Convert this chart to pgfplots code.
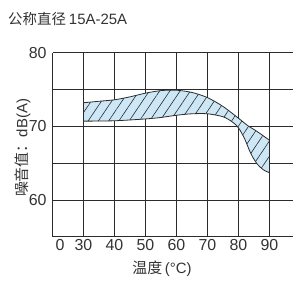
\documentclass[border=0pt]{standalone}
\usepackage{fontspec}
\setmainfont{Liberation Sans}
\newfontfamily\cjk{Noto Sans CJK SC}
\usepackage{pgfplots}
\usepackage{pgfplotstable}
\pgfplotsset{compat=1.18}
\usepgfplotslibrary{fillbetween}
\usetikzlibrary{patterns.meta}
\definecolor{bandfill}{HTML}{CDE7F6}
\definecolor{gridc}{HTML}{2B2B2B}
\definecolor{txt}{HTML}{333333}
\pgfplotstableread{
x y
30 73.2
35 73.4
40 73.6
45 74.0
50 74.5
55 74.85
60 74.9
65 74.6
70 73.9
75 72.7
80 71.1
83 70.1
86 69.3
90 68.1
}\upperband
\pgfplotstableread{
x y
30 70.7
40 70.75
50 71.0
55 71.2
60 71.5
65 71.7
70 71.7
75 71.3
78 70.6
80 69.8
82 68.3
84 66.3
86 64.9
88 64.1
90 63.7
}\lowerband
\begin{document}
\begin{tikzpicture}
\begin{axis}[at={(0,0)},anchor=south west,scale only axis,width=240bp,height=184bp,
 xmin=20.1,xmax=97.5,ymin=55,ymax=80,
 axis x line*=bottom, axis y line*=left,
 axis line style={gridc,line width=0.8bp},
 xtick={30,40,...,90}, extra x ticks={22.5}, extra x tick labels={0}, extra x tick style={grid=none},
 ytick={55,60,...,80}, yticklabels={,60,,70,,80},
 xmajorgrids, ymajorgrids, grid style={gridc,line width=0.7bp},
 major tick length=0pt,
 tick label style={font=\fontsize{16}{16}\selectfont, text=txt},
 /pgf/number format/assume math mode=true,
 xticklabel style={inner sep=1bp, yshift=-1bp},
 yticklabel style={inner sep=2bp, xshift=-4bp},
 clip=false,
]
\addplot[name path=U, draw=none, smooth] table {\upperband};
\addplot[name path=L, draw=none, smooth] table {\lowerband};
\addplot[fill=bandfill, draw=none] fill between[of=U and L];
\addplot[draw=none, pattern={Lines[angle=56,distance=8.5bp,line width=0.6bp]}, pattern color=gridc] fill between[of=U and L];
\addplot[draw=gridc, line width=0.8bp, smooth] table {\upperband};
\addplot[draw=gridc, line width=0.8bp, smooth] table {\lowerband};
\addplot[draw=gridc, line width=0.8bp] coordinates {(30,70.7) (30,73.2)};
\addplot[draw=gridc, line width=0.8bp] coordinates {(90,63.7) (90,68.1)};
\end{axis}
\node[anchor=west, inner sep=0, text=txt] at (-44.7bp,217.2bp) {{\cjk\fontsize{14.5}{15}\selectfont 公称直径}\hspace{3bp}{\fontsize{15}{15}\selectfont 15A-25A}};
\node[rotate=90, inner sep=0, text=txt] at (-30bp,88.7bp) {\fontsize{15}{15}\selectfont{\cjk 噪音值：}dB(A)};
\node[inner sep=0, text=txt] at (109.3bp,-32.3bp) {\fontsize{15}{15}\selectfont{\cjk 温度}\,(°C)};
\pgfresetboundingbox
\useasboundingbox (-52.7bp,-45.3bp) rectangle (245.3bp,236.7bp);
\end{tikzpicture}
\end{document}
